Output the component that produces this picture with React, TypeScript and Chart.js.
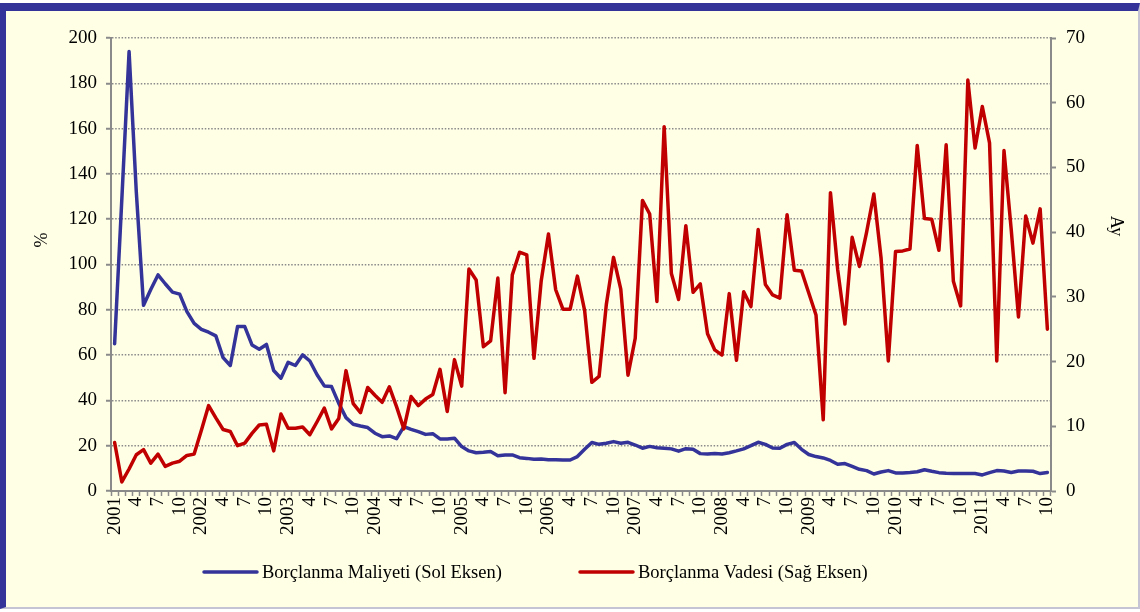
import React, { useEffect, useRef } from 'react';
import { Chart, registerables } from 'chart.js';

Chart.register(...registerables);

// ---- Data ----
const years = [2001, 2002, 2003, 2004, 2005, 2006, 2007, 2008, 2009, 2010, 2011];
const lastMonthOfLastYear = 10;
const monthNumbers = [1, 2, 3, 4, 5, 6, 7, 8, 9, 10, 11, 12];

// Borçlanma Maliyeti (%), left axis
const costValues = [
  65, 129, 194, 132, 82, 89, 95.4, 91.5, 87.8, 86.9, 79.2, 74,
  71.4, 70.1, 68.5, 58.9, 55.4, 72.6, 72.6, 64.5, 62.6, 64.7, 53.2, 49.8,
  56.8, 55.4, 60.1, 57.4, 51.3, 46.4, 46.1, 38.7, 32.4, 29.5, 28.7, 28.0,
  25.5, 24.0, 24.3, 23.1, 28.4, 27.2, 26.2, 25.0, 25.3, 23.0, 23.0, 23.3,
  19.6, 17.7, 16.9, 17.1, 17.4, 15.6, 15.9, 15.9, 14.7, 14.4, 14.0, 14.1,
  13.8, 13.8, 13.7, 13.7, 15.2, 18.4, 21.4, 20.6, 21.1, 21.8, 21.1, 21.5,
  20.3, 18.9, 19.7, 19.1, 18.9, 18.6, 17.6, 18.7, 18.4, 16.5, 16.3, 16.6,
  16.3, 16.9, 17.7, 18.6, 20.0, 21.5, 20.6, 19.0, 18.9, 20.6, 21.4, 18.4,
  16.1, 15.2, 14.6, 13.5, 11.8, 12.1, 10.9, 9.6, 9.0, 7.5, 8.4, 9.0,
  8.0, 8.0, 8.2, 8.5, 9.4, 8.7, 8.1, 7.8, 7.7, 7.7, 7.7, 7.7,
  7.1, 8.1, 9.0, 8.8, 8.2, 8.8, 8.8, 8.7, 7.7, 8.2,
];

// Borçlanma Vadesi (Ay), right axis
const maturityValues = [
  7.5, 1.4, 3.4, 5.6, 6.4, 4.3, 5.7, 3.8, 4.3, 4.6, 5.5, 5.7,
  9.4, 13.2, 11.3, 9.5, 9.2, 7.0, 7.4, 8.9, 10.2, 10.3, 6.2, 11.9,
  9.7, 9.7, 9.9, 8.7, 10.7, 12.8, 9.6, 11.2, 18.6, 13.5, 12.1, 16.0,
  14.8, 13.7, 16.1, 13.0, 9.6, 14.6, 13.2, 14.2, 14.9, 18.8, 12.3, 20.3,
  16.2, 34.3, 32.6, 22.3, 23.2, 32.9, 15.2, 33.4, 36.9, 36.5, 20.5, 32.5,
  39.7, 31.1, 28.1, 28.1, 33.2, 27.9, 16.8, 17.7, 28.8, 36.1, 31.2, 17.9,
  23.6, 44.9, 42.8, 29.3, 56.3, 33.6, 29.6, 41.0, 30.7, 32.0, 24.3, 21.8,
  21.0, 30.5, 20.2, 30.8, 28.5, 40.4, 31.9, 30.3, 29.8, 42.7, 34.1, 34.0,
  30.6, 27.2, 11.0, 46.1, 34.2, 25.8, 39.2, 34.7, 40.0, 45.9, 36.0, 20.1,
  37.0, 37.1, 37.4, 53.4, 42.1, 42.0, 37.2, 53.5, 32.4, 28.6, 63.5, 53.0,
  59.4, 53.8, 20.1, 52.6, 40.4, 26.9, 42.5, 38.3, 43.6, 25.0,
];

const seriesLabels = ['Borçlanma Maliyeti (Sol Eksen)', 'Borçlanma Vadesi (Sağ Eksen)'];
const leftAxisTitle = '%';
const rightAxisTitle = 'Ay';

// category labels: year on January, month number otherwise
const categories: string[] = [];
years.forEach((y, yi) => {
  monthNumbers.forEach((m) => {
    if (yi === years.length - 1 && m > lastMonthOfLastYear) return;
    categories.push(m === 1 ? String(y) : String(m));
  });
});

// ---- Style ----
const FONT = '"Liberation Serif", "Times New Roman", serif';
const BLUE = '#333399';
const RED = '#C00000';
const AXIS_GRAY = '#8a8a8a';
const W = 1140;
const H = 612;

const legendPlugin = {
  id: 'lineLegend',
  afterDraw(chart: any) {
    const ctx = chart.ctx as CanvasRenderingContext2D;
    const y = 572;
    const sampleW = 53;
    const itemX = [204, 580];
    ctx.save();
    ctx.font = `18.5px ${FONT}`;
    ctx.textBaseline = 'middle';
    ctx.textAlign = 'left';
    chart.data.datasets.forEach((ds: any, i: number) => {
      const x = itemX[i];
      ctx.strokeStyle = ds.borderColor;
      ctx.lineWidth = 3.5;
      ctx.lineCap = 'round';
      ctx.beginPath();
      ctx.moveTo(x, y);
      ctx.lineTo(x + sampleW, y);
      ctx.stroke();
      ctx.fillStyle = '#000';
      ctx.fillText(ds.label, x + sampleW + 5, y + 1);
    });
    ctx.restore();
  },
};

// axis titles placed like the reference (not centred on the axis)
const axisTitlePlugin = {
  id: 'axisTitles',
  afterDraw(chart: any) {
    const ctx = chart.ctx as CanvasRenderingContext2D;
    ctx.save();
    ctx.font = `18px ${FONT}`;
    ctx.fillStyle = '#000';
    ctx.textAlign = 'center';
    ctx.textBaseline = 'middle';
    ctx.translate(42, 240);
    ctx.rotate(-Math.PI / 2);
    ctx.fillText(leftAxisTitle, 0, 0);
    ctx.restore();
    ctx.save();
    ctx.font = `18px ${FONT}`;
    ctx.fillStyle = '#000';
    ctx.textAlign = 'center';
    ctx.textBaseline = 'middle';
    ctx.translate(1116, 226);
    ctx.rotate(Math.PI / 2);
    ctx.fillText(rightAxisTitle, 0, 0);
    ctx.restore();
  },
};

export default function App() {
  const canvasRef = useRef<HTMLCanvasElement | null>(null);

  useEffect(() => {
    const canvas = canvasRef.current;
    if (!canvas) return;
    const chart = new Chart(canvas, {
      type: 'line',
      data: {
        labels: categories,
        datasets: [
          {
            label: seriesLabels[0],
            data: costValues,
            borderColor: BLUE,
            backgroundColor: BLUE,
            borderWidth: 3.5,
            pointRadius: 0,
            tension: 0,
            borderJoinStyle: 'round',
            borderCapStyle: 'round',
            yAxisID: 'y',
            order: 2,
          },
          {
            label: seriesLabels[1],
            data: maturityValues,
            borderColor: RED,
            backgroundColor: RED,
            borderWidth: 3.5,
            pointRadius: 0,
            tension: 0,
            borderJoinStyle: 'round',
            borderCapStyle: 'round',
            yAxisID: 'y1',
            order: 1,
          },
        ],
      },
      options: {
        responsive: false,
        animation: false,
        devicePixelRatio: 1,
        layout: { padding: { left: 0, right: 0, top: 38, bottom: 0 } },
        plugins: {
          legend: { display: false },
          tooltip: { enabled: false },
        },
        scales: {
          x: {
            type: 'category',
            offset: true,
            grid: {
              display: true,
              offset: true,
              drawOnChartArea: false,
              drawTicks: true,
              tickLength: 5,
              tickColor: AXIS_GRAY,
              tickWidth: 1.5,
            },
            border: { display: true, color: AXIS_GRAY, width: 2 },
            ticks: {
              autoSkip: false,
              maxRotation: 90,
              minRotation: 90,
              padding: 1,
              color: '#000',
              font: { family: FONT, size: 19 },
              callback: (_v: any, index: number) => (index % 3 === 0 ? categories[index] : ''),
            },
            afterFit: (s: any) => {
              s.height = H - 491;
            },
          },
          y: {
            type: 'linear',
            position: 'left',
            min: 0,
            max: 200,
            ticks: {
              stepSize: 20,
              padding: 9,
              color: '#000',
              font: { family: FONT, size: 19 },
            },
            grid: {
              color: AXIS_GRAY,
              lineWidth: 1.5,
              drawTicks: true,
              tickLength: 5,
              tickColor: AXIS_GRAY,
              tickWidth: 2,
              tickBorderDash: [],
            },
            border: { display: true, color: AXIS_GRAY, width: 2, dash: [1.5, 1.7] },
            afterFit: (s: any) => {
              s.width = 111;
            },
          },
          y1: {
            type: 'linear',
            position: 'right',
            min: 0,
            max: 70,
            ticks: {
              stepSize: 10,
              padding: 10,
              color: '#000',
              font: { family: FONT, size: 19 },
            },
            grid: {
              drawOnChartArea: false,
              drawTicks: true,
              tickLength: 5,
              tickColor: AXIS_GRAY,
              tickWidth: 2,
              color: AXIS_GRAY,
            },
            border: { display: true, color: AXIS_GRAY, width: 2 },
            afterFit: (s: any) => {
              s.width = W - 1051;
            },
          },
        },
      },
      plugins: [legendPlugin, axisTitlePlugin],
    } as any);
    return () => chart.destroy();
  }, []);

  return (
    <div style={{ position: 'absolute', left: 0, top: 0, width: W, height: H, background: '#ffffff' }}>
      <div
        style={{
          position: 'absolute',
          left: 0,
          top: 3,
          width: 1140,
          height: 606,
          boxSizing: 'border-box',
          background: '#FFFFE6',
          borderTop: `8px solid ${BLUE}`,
          borderLeft: `6px solid ${BLUE}`,
          borderRight: '2px solid #c4c4d4',
          borderBottom: '2px solid #c4c4d4',
        }}
      />
      <canvas
        ref={canvasRef}
        width={W}
        height={H}
        style={{ position: 'absolute', left: 0, top: 0, width: W, height: H }}
      />
    </div>
  );
}
